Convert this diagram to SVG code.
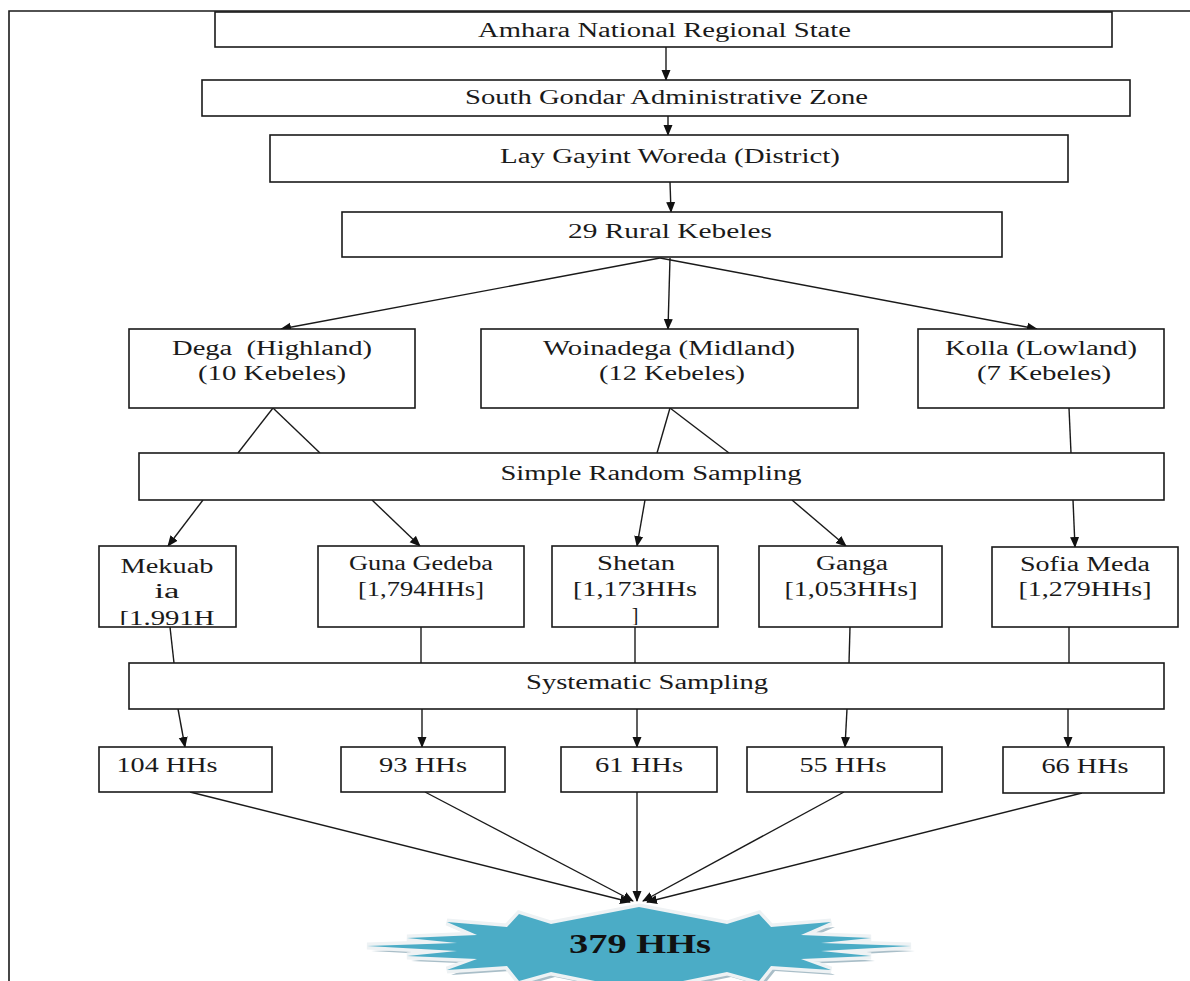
<svg xmlns="http://www.w3.org/2000/svg" width="1190" height="981" viewBox="0 0 1190 981">
<style>
.box{fill:#fff;stroke:#1a1a1a;stroke-width:1.6}
.t{font-family:"Liberation Serif","Times New Roman",serif;font-size:20px;fill:#1a1a1a;text-anchor:middle}
.c line{stroke:#1a1a1a;stroke-width:1.4}
.a{marker-end:url(#ah)}
.frame{stroke:#1a1a1a;stroke-width:1.6;fill:none}
</style>
<defs>
<marker id="ah" markerWidth="11" markerHeight="10" refX="10" refY="5" orient="auto" markerUnits="userSpaceOnUse">
<path d="M0,0.5 L11,5 L0,9.5 z" fill="#111"/>
</marker>
<clipPath id="clipMek"><rect x="100" y="547" width="135" height="78"/></clipPath>
<clipPath id="clipShe"><rect x="553" y="547" width="164" height="78"/></clipPath>
</defs>
<path class="frame" d="M9,981 L9,11 L1190,11"/>
<g class="c">
<line class="a" x1="666" y1="47" x2="666" y2="80"/>
<line class="a" x1="668" y1="116" x2="668" y2="135"/>
<line class="a" x1="670" y1="182" x2="671" y2="212"/>
<line class="a" x1="660" y1="258" x2="281" y2="329"/>
<line class="a" x1="670" y1="258" x2="668" y2="329"/>
<line class="a" x1="660" y1="258" x2="1037" y2="329"/>
<line x1="273" y1="408" x2="238" y2="453"/>
<line x1="273" y1="408" x2="320" y2="453"/>
<line x1="670" y1="408" x2="657" y2="453"/>
<line x1="670" y1="408" x2="729" y2="453"/>
<line x1="1069" y1="408" x2="1071" y2="453"/>
<line class="a" x1="203" y1="500" x2="168" y2="546"/>
<line class="a" x1="372" y1="500" x2="420" y2="546"/>
<line class="a" x1="645" y1="500" x2="637" y2="546"/>
<line class="a" x1="792" y1="500" x2="846" y2="546"/>
<line class="a" x1="1073" y1="500" x2="1075" y2="547"/>
<line x1="170" y1="627" x2="174" y2="663"/>
<line x1="421" y1="627" x2="421" y2="663"/>
<line x1="635" y1="627" x2="635" y2="663"/>
<line x1="850" y1="627" x2="849" y2="663"/>
<line x1="1069" y1="627" x2="1069" y2="663"/>
<line class="a" x1="178" y1="709" x2="185" y2="747"/>
<line class="a" x1="422" y1="709" x2="422" y2="747"/>
<line class="a" x1="637" y1="709" x2="637" y2="747"/>
<line class="a" x1="847" y1="709" x2="845" y2="747"/>
<line class="a" x1="1068" y1="709" x2="1068" y2="747"/>
<line class="a" x1="190" y1="792" x2="630" y2="902"/>
<line class="a" x1="425" y1="792" x2="633" y2="901"/>
<line class="a" x1="637" y1="792" x2="637" y2="901"/>
<line class="a" x1="844" y1="792" x2="643" y2="901"/>
<line class="a" x1="1082" y1="793" x2="647" y2="902"/>
</g>
<g id="amhara"><rect class="box" x="215" y="12" width="897" height="35"/><text class="t" x="664.5" y="37" textLength="373" lengthAdjust="spacingAndGlyphs">Amhara National Regional State</text></g>
<g id="southgondar"><rect class="box" x="202" y="80" width="928" height="36"/><text class="t" x="666.5" y="104" textLength="403" lengthAdjust="spacingAndGlyphs">South Gondar Administrative Zone</text></g>
<g id="laygayint"><rect class="box" x="270" y="135" width="798" height="47"/><text class="t" x="670" y="163" textLength="340" lengthAdjust="spacingAndGlyphs">Lay Gayint Woreda (District)</text></g>
<g id="rural"><rect class="box" x="342" y="212" width="660" height="45"/><text class="t" x="670" y="238" textLength="204" lengthAdjust="spacingAndGlyphs">29 Rural Kebeles</text></g>
<g id="dega"><rect class="box" x="129" y="329" width="286" height="79"/><text class="t" x="272" y="355" textLength="200" lengthAdjust="spacingAndGlyphs" style="white-space:pre">Dega  (Highland)</text><text class="t" x="272" y="380" textLength="148" lengthAdjust="spacingAndGlyphs">(10 Kebeles)</text></g>
<g id="woinadega"><rect class="box" x="481" y="329" width="377" height="79"/><text class="t" x="669" y="355" textLength="252" lengthAdjust="spacingAndGlyphs">Woinadega (Midland)</text><text class="t" x="672" y="380" textLength="146" lengthAdjust="spacingAndGlyphs">(12 Kebeles)</text></g>
<g id="kolla"><rect class="box" x="918" y="329" width="246" height="79"/><text class="t" x="1041" y="355" textLength="192" lengthAdjust="spacingAndGlyphs">Kolla (Lowland)</text><text class="t" x="1044" y="380" textLength="134" lengthAdjust="spacingAndGlyphs">(7 Kebeles)</text></g>
<g id="srs"><rect class="box" x="139" y="453" width="1025" height="47"/><text class="t" x="651" y="480" textLength="301" lengthAdjust="spacingAndGlyphs">Simple Random Sampling</text></g>
<g id="mekuabia"><rect class="box" x="99" y="546" width="137" height="81"/><g clip-path="url(#clipMek)"><text class="t" x="167" y="573" textLength="93" lengthAdjust="spacingAndGlyphs">Mekuab</text><text class="t" x="167" y="598" textLength="25" lengthAdjust="spacingAndGlyphs">ia</text><text class="t" x="167" y="625" textLength="95" lengthAdjust="spacingAndGlyphs">[1.991H</text></g></g>
<g id="guna"><rect class="box" x="318" y="546" width="206" height="81"/><text class="t" x="421" y="570" textLength="144" lengthAdjust="spacingAndGlyphs">Guna Gedeba</text><text class="t" x="421" y="596" textLength="126" lengthAdjust="spacingAndGlyphs">[1,794HHs]</text></g>
<g id="shetan"><rect class="box" x="552" y="546" width="166" height="81"/><g clip-path="url(#clipShe)"><text class="t" x="636" y="570" textLength="78" lengthAdjust="spacingAndGlyphs">Shetan</text><text class="t" x="635" y="596" textLength="124" lengthAdjust="spacingAndGlyphs">[1,173HHs</text><text class="t" x="635" y="622">]</text></g></g>
<g id="ganga"><rect class="box" x="759" y="546" width="183" height="81"/><text class="t" x="852" y="570" textLength="72" lengthAdjust="spacingAndGlyphs">Ganga</text><text class="t" x="851" y="596" textLength="133" lengthAdjust="spacingAndGlyphs">[1,053HHs]</text></g>
<g id="sofia"><rect class="box" x="992" y="547" width="186" height="80"/><text class="t" x="1085" y="571" textLength="130" lengthAdjust="spacingAndGlyphs">Sofia Meda</text><text class="t" x="1085" y="596" textLength="133" lengthAdjust="spacingAndGlyphs">[1,279HHs]</text></g>
<g id="systematic"><rect class="box" x="129" y="663" width="1035" height="46"/><text class="t" x="647" y="689" textLength="242" lengthAdjust="spacingAndGlyphs">Systematic Sampling</text></g>
<g id="hh104"><rect class="box" x="99" y="747" width="173" height="45"/><text class="t" x="167" y="772" textLength="101" lengthAdjust="spacingAndGlyphs">104 HHs</text></g>
<g id="hh93"><rect class="box" x="341" y="747" width="164" height="45"/><text class="t" x="423" y="772" textLength="88" lengthAdjust="spacingAndGlyphs">93 HHs</text></g>
<g id="hh61"><rect class="box" x="561" y="747" width="156" height="45"/><text class="t" x="639" y="772" textLength="88" lengthAdjust="spacingAndGlyphs">61 HHs</text></g>
<g id="hh55"><rect class="box" x="747" y="747" width="195" height="45"/><text class="t" x="843" y="772" textLength="87" lengthAdjust="spacingAndGlyphs">55 HHs</text></g>
<g id="hh66"><rect class="box" x="1003" y="747" width="161" height="46"/><text class="t" x="1085" y="773" textLength="87" lengthAdjust="spacingAndGlyphs">66 HHs</text></g>
<g id="total">
<polygon transform="translate(4,5)" fill="#a9bec8" points="639,907 727,924 759,914 771,927 831,922 801,935 871,938 821,943 911,946 821,951 871,956 801,959 831,970 771,966 759,981 727,972 639,990 551,972 519,981 507,966 447,970 477,959 407,956 457,951 367,946 457,943 407,938 477,935 447,922 507,927 519,914 551,924"/>
<polygon fill="none" stroke="#eef2f4" stroke-width="7" stroke-linejoin="miter" points="639,907 727,924 759,914 771,927 831,922 801,935 871,938 821,943 911,946 821,951 871,956 801,959 831,970 771,966 759,981 727,972 639,990 551,972 519,981 507,966 447,970 477,959 407,956 457,951 367,946 457,943 407,938 477,935 447,922 507,927 519,914 551,924"/>
<polygon fill="#4BACC6" points="639,907 727,924 759,914 771,927 831,922 801,935 871,938 821,943 911,946 821,951 871,956 801,959 831,970 771,966 759,981 727,972 639,990 551,972 519,981 507,966 447,970 477,959 407,956 457,951 367,946 457,943 407,938 477,935 447,922 507,927 519,914 551,924"/>
<text x="640" y="953" font-family="'Liberation Serif','Times New Roman',serif" font-size="28" font-weight="bold" fill="#111" text-anchor="middle" textLength="142" lengthAdjust="spacingAndGlyphs">379 HHs</text>
</g>
</svg>
